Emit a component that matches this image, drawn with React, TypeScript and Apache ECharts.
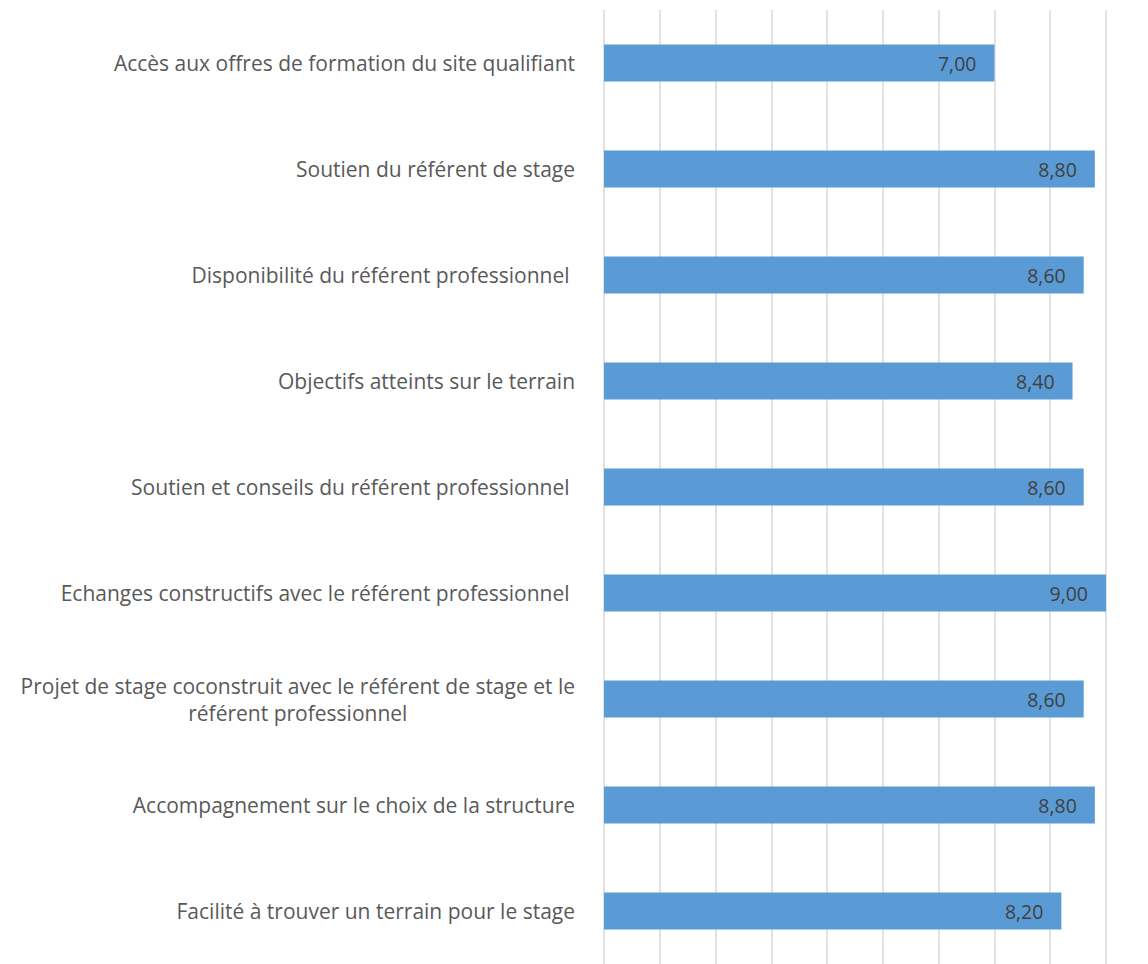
import React, { useEffect, useRef } from "react";
import * as echarts from "echarts";

const categories = [
  "Accès aux offres de formation du site qualifiant",
  "Soutien du référent de stage",
  "Disponibilité du référent professionnel ",
  "Objectifs atteints sur le terrain",
  "Soutien et conseils du référent professionnel ",
  "Echanges constructifs avec le référent professionnel ",
  "Projet de stage coconstruit avec le référent de stage et le\nréférent professionnel",
  "Accompagnement sur le choix de la structure",
  "Facilité à trouver un terrain pour le stage",
];
const values = [7.0, 8.8, 8.6, 8.4, 8.6, 9.0, 8.6, 8.8, 8.2];
const axisMin = 0;
const axisMax = 9;
const axisStep = 1;

export default function App() {
  const ref = useRef<HTMLDivElement>(null);
  useEffect(() => {
    if (!ref.current) return;
    const chart = echarts.init(ref.current, undefined, { renderer: "svg" });
    chart.setOption({
      animation: false,
      textStyle: { fontFamily: "Open Sans" },
      grid: { left: 604, right: 42, top: 10, bottom: -5, containLabel: false },
      xAxis: {
        type: "value",
        min: axisMin,
        max: axisMax,
        interval: axisStep,
        axisLabel: { show: false },
        axisLine: { show: false },
        axisTick: { show: false },
        splitLine: { show: true, lineStyle: { color: "#d9d9d9", width: 1.5 } },
      },
      yAxis: {
        type: "category",
        data: categories,
        inverse: true,
        axisLine: { show: false },
        axisTick: { show: false },
        splitLine: { show: false },
        axisLabel: {
          margin: 29,
          formatter: (v: string) =>
            v
              .split("\n")
              .map((l) => `{c|${l}}`)
              .join("\n"),
          rich: {
            c: {
              align: "center",
              fontSize: 21,
              lineHeight: 27,
              color: "#595959",
              fontFamily: "Open Sans",
            },
          },
        },
      },
      series: [
        {
          type: "bar",
          data: values,
          barWidth: 37,
          itemStyle: { color: "#5b9bd5" },
          label: {
            show: true,
            position: "insideRight",
            distance: 18,
            color: "#404040",
            fontSize: 19.5,
            fontFamily: "Open Sans",
            formatter: (p: any) => Number(p.value).toFixed(2).replace(".", ","),
          },
        },
      ],
    });
    return () => chart.dispose();
  }, []);
  return (
    <div
      ref={ref}
      style={{ position: "fixed", left: 0, top: 0, width: 1148, height: 964, background: "#fff" }}
    />
  );
}
